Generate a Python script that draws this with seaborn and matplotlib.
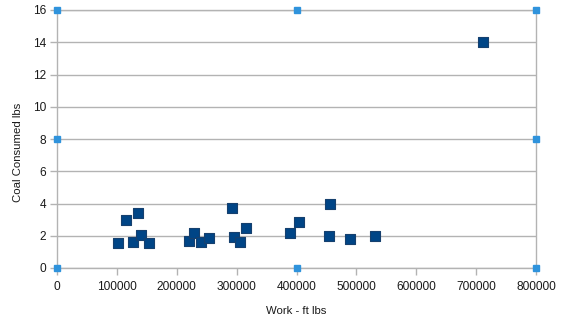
import matplotlib
matplotlib.use("Agg")
import matplotlib.pyplot as plt
import seaborn as sns
import pandas as pd

# Work done (ft lbs) vs. coal consumed (lbs)
work_ft_lbs = [102000, 115000, 127000, 135000, 140000, 153500,
               220000, 229000, 240500, 254000, 292000, 295500,
               305500, 315500, 389000, 404000, 456000, 454000,
               489000, 531000, 711000]
coal_lbs = [1.55, 2.95, 1.6, 3.4, 2.05, 1.55,
            1.65, 2.15, 1.6, 1.85, 3.75, 1.92,
            1.6, 2.5, 2.17, 2.87, 3.97, 1.98,
            1.8, 1.98, 14.0]

x_ticks = [0, 100000, 200000, 300000, 400000, 500000, 600000, 700000, 800000]
y_ticks = [0, 2, 4, 6, 8, 10, 12, 14, 16]

df = pd.DataFrame({"Work - ft lbs": work_ft_lbs, "Coal Consumed lbs": coal_lbs})

sns.set_theme(style="white")
plt.rcParams["font.family"] = ["Liberation Sans", "DejaVu Sans"]

fig = plt.figure(figsize=(5.69, 3.30), dpi=100)
ax = fig.add_axes([57 / 569, 1 - 268 / 330, (536 - 57) / 569, (268 - 10) / 330])

grid_c = "#b3b3b3"
for yv in y_ticks:
    ax.axhline(yv, color=grid_c, lw=1.0, zorder=0)

sns.scatterplot(data=df, x="Work - ft lbs", y="Coal Consumed lbs", ax=ax,
                marker="s", s=58, color="#004586", edgecolor="#16406e",
                linewidth=0.8, zorder=3)

ax.set_xlim(0, 800000)
ax.set_ylim(0, 16)
ax.set_xticks(x_ticks)
ax.set_xticklabels([str(v) for v in x_ticks])
ax.set_yticks(y_ticks)
ax.set_yticklabels([str(v) for v in y_ticks])

for side in ["left", "right", "top", "bottom"]:
    ax.spines[side].set_color(grid_c)
    ax.spines[side].set_linewidth(1.0)

ax.tick_params(axis="both", which="major", direction="out", length=5,
               width=1.0, color=grid_c, labelsize=8.6, labelcolor="#1a1a1a",
               pad=3)
ax.tick_params(axis="x", bottom=True, pad=4)
ax.tick_params(axis="y", left=True)

ax.set_xlabel("Work - ft lbs", fontsize=8.2, color="#1a1a1a", labelpad=10)
ax.set_ylabel("Coal Consumed lbs", fontsize=8.2, color="#1a1a1a")
ax.yaxis.set_label_coords(-0.072, 0.45)

# selection handles around the chart wall
handle_pos = [(0, 1), (0.5, 1), (1, 1), (0, 0.5), (1, 0.5),
              (0, 0), (0.5, 0), (1, 0)]
for hx, hy in handle_pos:
    ax.plot(hx, hy, marker="s", ms=5, color="#2f93dc", mec="#2f93dc",
            transform=ax.transAxes, clip_on=False, zorder=5)

fig.savefig("out.png", dpi=100)
